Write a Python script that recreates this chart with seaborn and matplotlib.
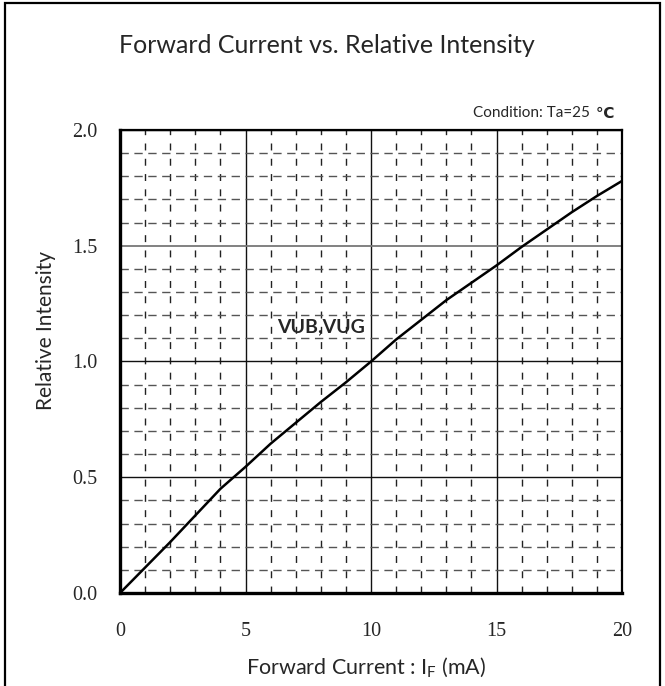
import numpy as np
import pandas as pd
import seaborn as sns
import matplotlib
matplotlib.use("Agg")
import matplotlib.pyplot as plt
from matplotlib.patches import Rectangle
from matplotlib.ticker import MultipleLocator

# Forward current (mA) and relative luminous intensity
current_ma = [0, 1, 2, 3, 4, 5, 6, 7, 8, 9, 10, 11, 12, 13, 14, 15, 16, 17, 18, 19, 20]
relative_intensity = [0.0, 0.11, 0.22, 0.335, 0.45, 0.545, 0.645, 0.735, 0.825, 0.91,
                      1.0, 1.095, 1.18, 1.265, 1.34, 1.415, 1.495, 1.57, 1.645, 1.715, 1.78]
x_ticks = [0, 5, 10, 15, 20]
y_ticks = [0.0, 0.5, 1.0, 1.5, 2.0]
y_tick_labels = ["0.0", "0.5", "1.0", "1.5", "2.0"]
series_label = "VUB,VUG"

sns.set_theme(style="white")
plt.rcParams["font.family"] = ["Lato", "DejaVu Sans"]

df = pd.DataFrame({"current": current_ma, "intensity": relative_intensity})

fig = plt.figure(figsize=(6.65, 6.86), dpi=100)
ax = fig.add_axes([0.1805, 0.1356, 0.7549, 0.6749])

# minor grid: dashed, every 1 mA and every 0.1
ax.xaxis.set_minor_locator(MultipleLocator(1))
ax.yaxis.set_minor_locator(MultipleLocator(0.1))
ax.grid(which="minor", axis="x", color="#222222", linewidth=1.0, linestyle=(0, (5, 6)))
ax.grid(which="minor", axis="y", color="#555555", linewidth=1.0, linestyle=(0, (6, 4)))
# major grid: solid
ax.grid(which="major", axis="both", color="#111111", linewidth=1.0, linestyle="-")
ax.set_axisbelow(True)

sns.lineplot(data=df, x="current", y="intensity", ax=ax, color="black",
             linewidth=1.8, legend=False)

ax.set_xlim(0, 20)
ax.set_ylim(0, 2.0)
ax.set_xticks(x_ticks)
ax.set_yticks(y_ticks)
ax.set_yticklabels(y_tick_labels)

# grey major line at 1.5
for gl, v in zip(ax.yaxis.get_gridlines(), y_ticks):
    if abs(v - 1.5) < 1e-9:
        gl.set_color("#777777")
        gl.set_linewidth(1.3)

ax.tick_params(axis="both", which="major", direction="out", length=8, width=1.2,
               color="black", labelsize=14.5)
ax.tick_params(axis="x", which="major", pad=13)
ax.tick_params(axis="y", which="major", pad=8)
ax.tick_params(which="minor", length=0)
for lab in ax.get_xticklabels() + ax.get_yticklabels():
    lab.set_fontfamily("Liberation Serif")

ax.spines["left"].set_linewidth(2.4)
ax.spines["bottom"].set_linewidth(2.4)
ax.spines["top"].set_linewidth(1.6)
ax.spines["right"].set_linewidth(1.6)
for s in ax.spines.values():
    s.set_color("black")

ax.set_xlabel("Forward Current : I$_\\mathregular{F}$ (mA)", fontsize=15.5)
ax.set_ylabel("Relative Intensity", fontsize=15)
ax.xaxis.set_label_coords(0.49, -0.135)
ax.yaxis.set_label_coords(-0.128, 0.568)

ax.text(8.0, 1.15, series_label, fontsize=14, fontweight="bold", ha="center", va="center")

fig.text(0.492, 0.934, "Forward Current vs. Relative Intensity", fontsize=18,
         ha="center", va="center")
fig.text(0.893, 0.835, "Condition: Ta=25 ", fontsize=11, ha="right", va="center")
fig.text(0.896, 0.835, "\u2103", fontsize=11, ha="left", va="center",
         fontweight="bold", family="DejaVu Sans")

# outer frame
fig.patches.append(Rectangle((0.008, -0.05), 0.984, 1.045, transform=fig.transFigure,
                             fill=False, edgecolor="black", linewidth=1.6))

fig.savefig("out.png", dpi=100)
